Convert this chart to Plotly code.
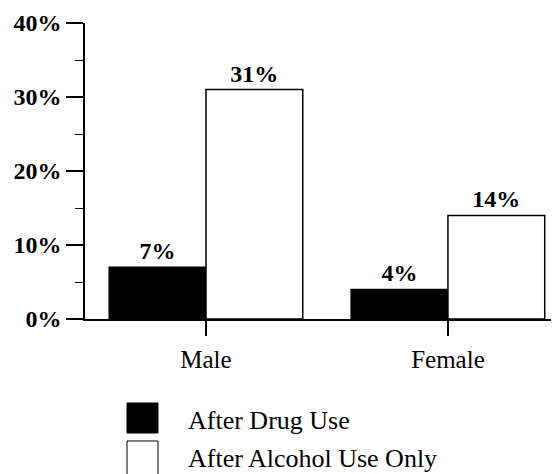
import plotly.graph_objects as go

categories = ["Male", "Female"]
drug_use = [7, 4]
alcohol_only = [31, 14]
series_names = ["After Drug Use", "After Alcohol Use Only"]
y_tick_vals = [0, 10, 20, 30, 40]
y_tick_text = ["0%", "10%", "20%", "30%", "40%"]

# page has an 8px body margin; size the figure so it ends at the window edge
OFF = 8
W, H = 559 - OFF, 474 - OFF
# plot area in page pixels: x 85..559, y 23..319.3
L, T = 85 - OFF, 23 - OFF
R, B = 0, 474 - 319 
PW, PH = W - L - R, H - T - B

def px_x(x):
    return (x - OFF - L) / PW

def px_y(y):
    return (H - B - (y - OFF)) / PH

SERIF = "Liberation Serif, Times New Roman, serif"

fig = go.Figure()
fig.add_trace(go.Bar(
    x=categories, y=drug_use, name=series_names[0],
    marker=dict(color="black", line=dict(color="black", width=1.5)),
    text=[f"{v}%" for v in drug_use], textposition="outside",
    textfont=dict(family=SERIF, size=24, color="black", weight="bold"),
    constraintext="none", cliponaxis=False, showlegend=False,
))
fig.add_trace(go.Bar(
    x=categories, y=alcohol_only, name=series_names[1],
    marker=dict(color="white", line=dict(color="black", width=1.5)),
    text=[f"{v}%" for v in alcohol_only], textposition="outside",
    textfont=dict(family=SERIF, size=24, color="black", weight="bold"),
    constraintext="none", cliponaxis=False, showlegend=False,
))

# manual legend (page pixel positions)
legend_items = [
    (series_names[0], "black", 403, 433, 420),
    (series_names[1], "white", 441, 480, 458),
]
shapes = []
annotations = []
for name, color, y0, y1, ty in legend_items:
    shapes.append(dict(type="rect", xref="paper", yref="paper",
                       x0=px_x(127), x1=px_x(158), y0=px_y(y1), y1=px_y(y0),
                       fillcolor=color, line=dict(color="black", width=1)))
    annotations.append(dict(text=name, xref="paper", yref="paper",
                            x=px_x(186), y=px_y(ty), xanchor="left", yanchor="middle",
                            showarrow=False,
                            font=dict(family=SERIF, size=26, color="black")))

fig.update_layout(
    width=W, height=H,
    margin=dict(l=L, r=R, t=T, b=B, autoexpand=False),
    paper_bgcolor="white", plot_bgcolor="white",
    barmode="group", bargap=0.2, bargroupgap=0,
    shapes=shapes, annotations=annotations,
    showlegend=False,
    xaxis=dict(
        range=[-0.5, 1.459], showgrid=False, zeroline=False,
        showline=True, linecolor="black", linewidth=1.5,
        ticks="outside", ticklen=15, tickcolor="black", tickwidth=1.5,
        tickfont=dict(family=SERIF, size=25, color="black"),
        ticklabelstandoff=2,
    ),
    yaxis=dict(
        range=[0, 40], showgrid=False, zeroline=False,
        showline=True, linecolor="black", linewidth=1.5,
        tickvals=y_tick_vals, ticktext=y_tick_text,
        ticks="outside", ticklen=17, tickcolor="black", tickwidth=1.5,
        tickfont=dict(family=SERIF, size=24, color="black", weight="bold"),
        minor=dict(dtick=5, ticks="outside", ticklen=8, tickcolor="black", tickwidth=1),
        ticklabelstandoff=0,
    ),
)

fig.write_html("out.html")
